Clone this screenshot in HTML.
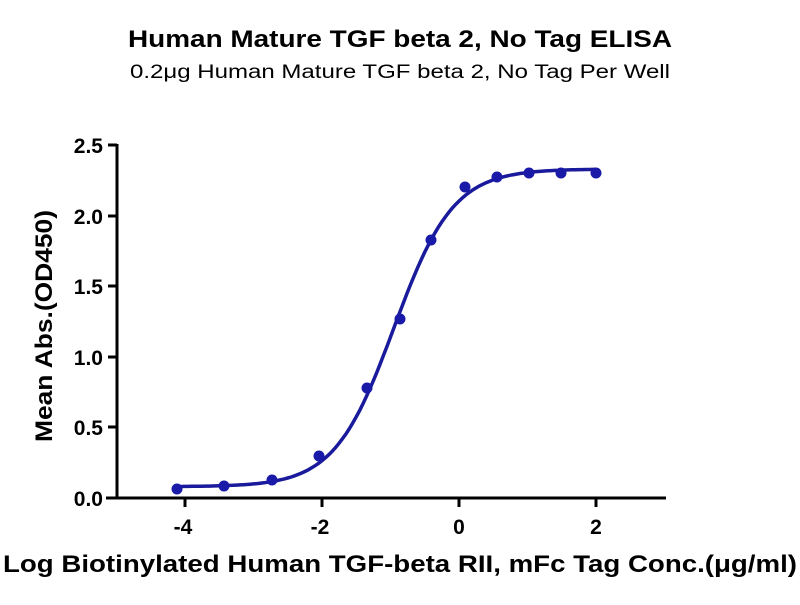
<!DOCTYPE html>
<html><head><meta charset="utf-8"><style>
body{margin:0;background:#fff;width:800px;height:600px;overflow:hidden}
text{font-family:"Liberation Sans",Arial,sans-serif}
</style></head><body>
<svg id="s" width="800" height="600" xmlns="http://www.w3.org/2000/svg">
<text x="400" y="47" text-anchor="middle" font-size="24" font-weight="bold" textLength="544" lengthAdjust="spacingAndGlyphs">Human Mature TGF beta 2, No Tag ELISA</text>
<text x="400" y="78" text-anchor="middle" font-size="19" textLength="540" lengthAdjust="spacingAndGlyphs">0.2μg Human Mature TGF beta 2, No Tag Per Well</text>
<g stroke="#000" stroke-width="3" fill="none">
<line x1="117" y1="144" x2="117" y2="499"/>
<line x1="106" y1="498" x2="666" y2="498"/>
<line x1="108" y1="145" x2="117" y2="145"/>
<line x1="108" y1="216" x2="117" y2="216"/>
<line x1="108" y1="286" x2="117" y2="286"/>
<line x1="108" y1="357" x2="117" y2="357"/>
<line x1="108" y1="427" x2="117" y2="427"/>
<line x1="108" y1="498" x2="117" y2="498"/>
<line x1="185" y1="498" x2="185" y2="507"/>
<line x1="322" y1="498" x2="322" y2="507"/>
<line x1="459" y1="498" x2="459" y2="507"/>
<line x1="596" y1="498" x2="596" y2="507"/>
</g>
<g font-size="21" font-weight="bold" text-anchor="end">
<text x="103" y="153">2.5</text><text x="103" y="224">2.0</text><text x="103" y="294">1.5</text>
<text x="103" y="365">1.0</text><text x="103" y="435">0.5</text><text x="103" y="506">0.0</text>
</g>
<g font-size="21" font-weight="bold" text-anchor="middle">
<text x="183" y="534">-4</text><text x="320" y="534">-2</text><text x="459" y="534">0</text><text x="596" y="534">2</text>
</g>
<text transform="translate(52,326) rotate(-90)" text-anchor="middle" font-size="24" font-weight="bold" textLength="232" lengthAdjust="spacingAndGlyphs">Mean Abs.(OD450)</text>
<text x="400" y="572" text-anchor="middle" font-size="24" font-weight="bold" textLength="794" lengthAdjust="spacingAndGlyphs">Log Biotinylated Human TGF-beta RII, mFc Tag Conc.(μg/ml)</text>
<path id="c" fill="none" stroke="#1a1a9c" stroke-width="3.5"/>
<g id="p" fill="#1a1aa8"></g>
</svg>
<script>
var X=function(v){return 459+68.5*v},Y=function(v){return 498-141.2*v};
var f=function(x){return 0.08+2.25/(1+Math.pow(10,(-0.95-x)*1.0))};
var d="";for(var x=-4.15;x<=2.001;x+=0.05){d+=(d?"L":"M")+X(x).toFixed(1)+","+Y(f(x)).toFixed(1);}
document.getElementById("c").setAttribute("d",d);
var pts=[[177,489],[224,486],[272,480],[319,456],[367,388],[400,319],[431,240],[465,187],[497,177],[529,173],[561,173],[596,173]];
var g=document.getElementById("p"),h="";
pts.forEach(function(q){h+='<circle cx="'+q[0]+'" cy="'+q[1]+'" r="5.5"/>';});
g.innerHTML=h;
</script>
</body></html>
